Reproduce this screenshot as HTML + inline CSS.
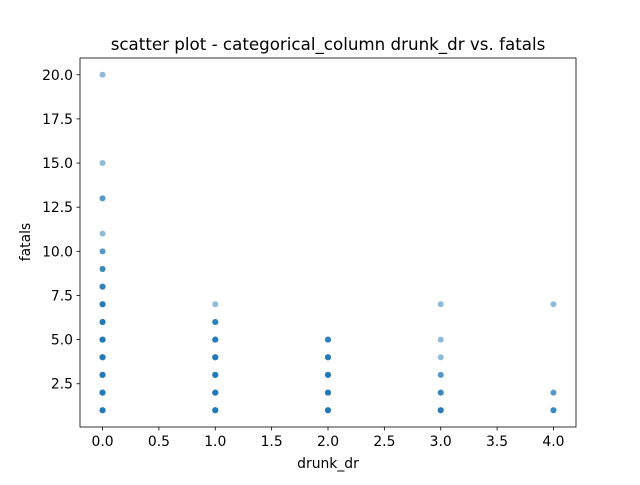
<!DOCTYPE html>
<html><head><meta charset="utf-8"><style>
body{margin:0;background:#fff;font-family:"Liberation Sans","DejaVu Sans",sans-serif}
text{font-family:"DejaVu Sans","Liberation Sans",sans-serif}
</style></head><body>
<svg id="chart" width="640" height="480" xmlns="http://www.w3.org/2000/svg">
<rect width="640" height="480" fill="#fff"/>
<text x="328" y="50" font-size="16.7" text-anchor="middle">scatter plot - categorical_column drunk_dr vs. fatals</text>
<g id="marks"></g>
<g id="axes"></g>
<rect x="80" y="58" width="496" height="369" fill="none" stroke="#000" stroke-width="0.8"/>
<text x="328" y="468" font-size="13.9" text-anchor="middle">drunk_dr</text>
<text transform="translate(30,242) rotate(-90)" font-size="13.9" text-anchor="middle">fatals</text>
</svg>
<script>
const xs = [0,0,0,0,0,0,0,0,0,0,0,0,0,0, 1,1,1,1,1,1,1, 2,2,2,2,2, 3,3,3,3,3,3, 4,4,4];
const ys = [1,2,3,4,5,6,7,8,9,10,11,13,15,20, 1,2,3,4,5,6,7, 1,2,3,4,5, 1,2,3,4,5,7, 1,2,7];
const counts = [6,6,6,6,6,6,5,4,3,2,1,2,1,1, 6,6,6,6,5,4,1, 6,6,6,5,4, 5,3,2,1,1,1, 3,2,1];
const xTicks = [0,0.5,1,1.5,2,2.5,3,3.5,4];
const yTicks = [2.5,5,7.5,10,12.5,15,17.5,20];
const L=80,R=576,T=58,B=427, xmin=-0.2,xmax=4.2, ymin=0.05,ymax=20.95;
const sx=v=>L+(v-xmin)/(xmax-xmin)*(R-L);
const sy=v=>B-(v-ymin)/(ymax-ymin)*(B-T);
const NS="http://www.w3.org/2000/svg";
const marks=document.getElementById('marks'), axes=document.getElementById('axes');
for(let i=0;i<xs.length;i++){
  for(let k=0;k<counts[i];k++){
    const c=document.createElementNS(NS,'circle');
    
    
    c.setAttribute('cx',sx(xs[i]));c.setAttribute('cy',sy(ys[i]));c.setAttribute('r',3);
    c.setAttribute('fill','#1f77b4');c.setAttribute('fill-opacity',0.5);
    marks.appendChild(c);
  }
}
xTicks.forEach(t=>{
  const x=sx(t);
  const l=document.createElementNS(NS,'line');
  
  
  l.setAttribute('x1',x);l.setAttribute('x2',x);l.setAttribute('y1',B);l.setAttribute('y2',B+3.5);l.setAttribute('stroke','#000');l.setAttribute('stroke-width',0.8);
  axes.appendChild(l);
  const tx=document.createElementNS(NS,'text');
  
  
  tx.setAttribute('x',x);tx.setAttribute('y',B+19);tx.setAttribute('font-size',13.9);tx.setAttribute('text-anchor','middle');
  tx.textContent=t.toFixed(1);axes.appendChild(tx);
});
yTicks.forEach(t=>{
  const y=sy(t);
  const l=document.createElementNS(NS,'line');
  
  
  l.setAttribute('x1',L-3.5);l.setAttribute('x2',L);l.setAttribute('y1',y);l.setAttribute('y2',y);l.setAttribute('stroke','#000');l.setAttribute('stroke-width',0.8);
  axes.appendChild(l);
  const tx=document.createElementNS(NS,'text');
  
  
  tx.setAttribute('x',L-7);tx.setAttribute('y',y+5);tx.setAttribute('font-size',13.9);tx.setAttribute('text-anchor','end');
  tx.textContent=t.toFixed(1);axes.appendChild(tx);
});
</script>
</body></html>
